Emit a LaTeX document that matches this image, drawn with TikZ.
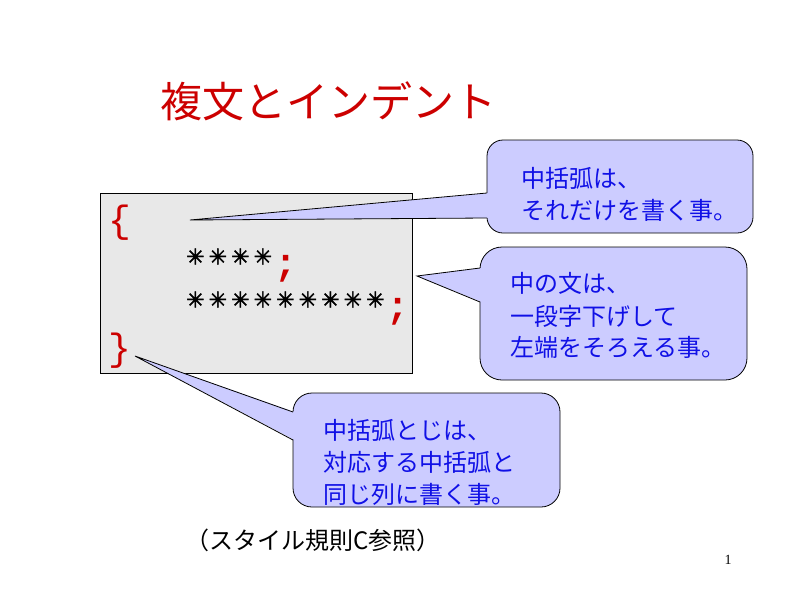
\documentclass[tikz,border=0pt]{standalone}
\usepackage{fontspec}
\setmainfont{Liberation Serif}
\newfontfamily\jp{Noto Sans CJK JP}
\newfontfamily\codefont{Liberation Mono}
\newfontfamily\symfont[FakeBold=2]{DejaVu Sans}
\usetikzlibrary{calc}
\definecolor{titlered}{RGB}{204,0,0}
\definecolor{calloutfill}{RGB}{204,204,255}
\definecolor{codegray}{RGB}{232,232,232}
\definecolor{textblue}{RGB}{16,16,230}
\newcommand\codestar{\makebox[22.5pt]{\raisebox{10.5pt}[0pt][0pt]{\symfont\fontsize{22}{22}\selectfont ✳}}}
\newcommand\codesemi{\makebox[22.5pt]{\textcolor{titlered}{\bfseries ;}}}
\begin{document}
\begin{tikzpicture}[x=1pt,y=-1pt,
  codeline/.style={anchor=base west, inner sep=0, font=\codefont\fontsize{38}{43}\selectfont},
  calloutbox/.style={draw=black, fill=calloutfill, line width=0.8pt, inner sep=0, outer sep=0},
  tailline/.style={draw=black, line width=0.8pt},
  ctext/.style={anchor=base west, inner sep=0, text=textblue, font=\jp\fontsize{24}{32}\selectfont}]
\useasboundingbox (0,0) rectangle (800,600);
% title
\node[anchor=base west, inner sep=0, text=titlered, font=\jp\fontsize{42}{50}\selectfont] (title) at (160,117) {複文とインデント};
% code box
\node[draw=black, fill=codegray, line width=0.8pt, minimum width=312pt, minimum height=180pt, inner sep=0, outer sep=0] (code) at (256,283) {};
\node[codeline] (l1) at (108,232) {\textcolor{titlered}{\{}};
\node[codeline] (l2) at (184,275) {\codestar\codestar\codestar\codestar\codesemi};
\node[codeline] (l3) at (184,318) {\codestar\codestar\codestar\codestar\codestar\codestar\codestar\codestar\codestar\codesemi};
\node[codeline] (l4) at (108,360) {\textcolor{titlered}{\}}};
% callout 1
\node[calloutbox, rounded corners=16pt, minimum width=266pt, minimum height=93pt] (c1) at (620,186.5) {};
\coordinate (t1) at (190,220);
\fill[calloutfill] ($(c1.north west)+(1.5,53)$) -- (t1) -- ($(c1.north west)+(1.5,78)$) -- cycle;
\draw[tailline] ($(c1.north west)+(0,53)$) -- (t1) -- ($(c1.north west)+(0,78)$);
\node[ctext] (c1a) at (521,187) {中括弧は、};
\node[ctext] (c1b) at (521,219) {それだけを書く事。};
% callout 2
\node[calloutbox, rounded corners=22pt, minimum width=267pt, minimum height=133pt] (c2) at (613.5,313.5) {};
\coordinate (t2) at (417,276);
\fill[calloutfill] ($(c2.north west)+(1.5,21)$) -- (t2) -- ($(c2.north west)+(1.5,55)$) -- cycle;
\draw[tailline] ($(c2.north west)+(0,21)$) -- (t2) -- ($(c2.north west)+(0,55)$);
\node[ctext] (c2a) at (510,292) {中の文は、};
\node[ctext] (c2b) at (510,325) {一段字下げして};
\node[ctext] (c2c) at (510,356) {左端をそろえる事。};
% callout 3
\node[calloutbox, rounded corners=19pt, minimum width=267pt, minimum height=114pt] (c3) at (426.5,450) {};
\coordinate (t3) at (135,356);
\fill[calloutfill] ($(c3.north west)+(1.5,19)$) -- (t3) -- ($(c3.north west)+(1.5,47)$) -- cycle;
\draw[tailline] ($(c3.north west)+(0,19)$) -- (t3) -- ($(c3.north west)+(0,47)$);
\node[ctext] (c3a) at (323,439) {中括弧とじは、};
\node[ctext] (c3b) at (323,471.5) {対応する中括弧と};
\node[ctext] (c3c) at (323,503) {同じ列に書く事。};
% caption and page number
\node[anchor=base west, inner sep=0, font=\jp\fontsize{24}{28}\selectfont] (caption) at (185,549) {（スタイル規則C参照）};
\node[anchor=base, inner sep=0, font=\fontsize{14}{16}\selectfont] (pagenum) at (728,564) {1};
\end{tikzpicture}
\end{document}
